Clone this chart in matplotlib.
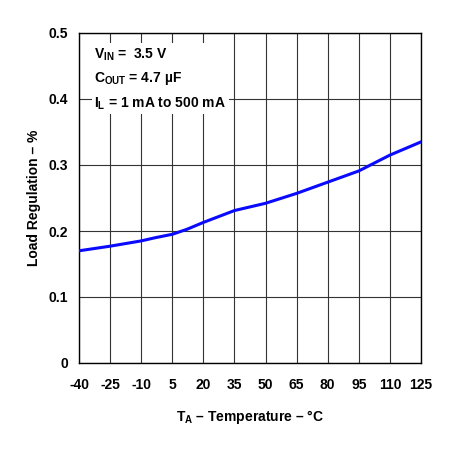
import matplotlib
matplotlib.use("Agg")
import matplotlib.pyplot as plt

plt.rcParams["font.family"] = ["Liberation Sans", "DejaVu Sans"]
plt.rcParams["font.weight"] = "bold"
plt.rcParams["axes.unicode_minus"] = False
plt.rcParams["mathtext.fontset"] = "custom"
plt.rcParams["mathtext.rm"] = "Liberation Sans:bold"
plt.rcParams["mathtext.it"] = "Liberation Sans:bold"
plt.rcParams["mathtext.bf"] = "Liberation Sans:bold"
plt.rcParams["mathtext.default"] = "rm"

# temperature (C) vs load regulation (%)
TEMP = [-40, -25, -10, -3, 5, 12, 20, 35, 50, 65, 80, 95, 110, 125]
LOAD_REG = [0.170, 0.177, 0.185, 0.190, 0.195, 0.2025, 0.213, 0.231,
            0.242, 0.257, 0.274, 0.291, 0.315, 0.335]

X_TICKS = [-40, -25, -10, 5, 20, 35, 50, 65, 80, 95, 110, 125]
Y_TICKS = [0, 0.1, 0.2, 0.3, 0.4, 0.5]
Y_TICK_LABELS = ["0", "0.1", "0.2", "0.3", "0.4", "0.5"]

fig = plt.figure(figsize=(4.55, 4.51), dpi=100)
ax = fig.add_axes([79 / 455, 1 - 363 / 451, 342 / 455, 330 / 451])

ax.plot(TEMP, LOAD_REG, color="#0a0aff", linewidth=2.2, zorder=3)

ax.set_xlim(-40, 125)
ax.set_ylim(0, 0.5)
ax.set_xticks(X_TICKS)
ax.set_yticks(Y_TICKS)
ax.set_yticklabels(Y_TICK_LABELS)
ax.tick_params(axis="both", length=0, labelsize=10)
ax.tick_params(axis="x", pad=11)
ax.tick_params(axis="y", pad=8)
ax.grid(True, color="#333333", linewidth=0.8, zorder=1)
for spine in ax.spines.values():
    spine.set_linewidth(1.0)
    spine.set_color("black")

ax.set_xlabel(r"T$_{\mathregular{A}}$ – Temperature – °C", fontsize=10,
              fontweight="bold", labelpad=11)
ax.set_ylabel("Load Regulation – %", fontsize=10, fontweight="bold", labelpad=5)

note = (r"V$_{\mathregular{IN}}$ =  3.5 V" + "\n"
        + r"C$_{\mathregular{OUT}}$ = 4.7 µF" + "\n"
        + r"I$_{\mathregular{L}}$ = 1 mA to 500 mA")
ax.text(0.045, 0.96, note, transform=ax.transAxes, fontsize=10,
        fontweight="bold", va="top", ha="left", linespacing=1.65,
        bbox=dict(facecolor="white", edgecolor="none", pad=2), zorder=4)

fig.savefig("out.png", dpi=100)
